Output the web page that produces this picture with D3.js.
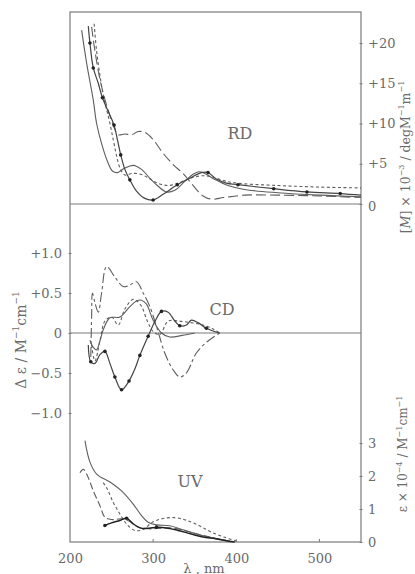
<!DOCTYPE html>
<html>
<head>
<meta charset="utf-8">
<script src="https://cdn.jsdelivr.net/npm/d3@7"></script>
<style>
  body { margin: 0; background: #fff; }
  text { font-family: "DejaVu Serif", serif; fill: #6a6a6a; }
</style>
</head>
<body>
<svg id="chart" width="415" height="574"></svg>
<script>
// wavelength axis
const xTicks = [200, 300, 400, 500];

// RD panel, [M] x 10^-3 (deg M^-1 m^-1)
const rdTicks = [5, 10, 15, 20];
const rdA = [[222,22.1],[224,20],[228,16.9],[234,15],[239,13.2],[246,11.5],[253,9.8],[257,8],[261,6.1],[266,4.3],[272,3.0],[280,1.6],[290,0.7],[300,0.5],[312,1.2],[329,2.4],[344,3.2],[358,3.9],[366,3.9],[376,3.1],[388,2.6],[402,2.4],[445,1.9],[485,1.5],[525,1.3],[550,1.1]];
const rdADots = [[224,20],[228,16.9],[239,13.2],[253,9.8],[261,6.1],[272,3.0],[300,0.5],[329,2.4],[366,3.9],[402,2.4],[445,1.9],[485,1.5],[525,1.3]];
const rdB = [[214,21.6],[220,17.5],[228,12.9],[232,10],[238,7.5],[245,5.3],[251,4.1],[257,3.9],[265,4.4],[276,4.8],[286,4.3],[296,3.2],[306,2.2],[316,1.5],[326,1.7],[338,2.8],[348,3.7],[355,4.0],[362,3.8],[375,3.0],[390,2.3],[410,1.8],[450,1.4],[500,1.1],[550,0.9]];
const rdC = [[229,22.4],[232,19],[236,16],[241,13],[247,10.5],[252,8],[256,6],[260,4.5],[266,3.6],[275,3.8],[285,3.7],[295,3.2],[305,2.6],[318,2.3],[330,2.6],[345,3.2],[358,3.5],[370,3.4],[385,2.9],[400,2.6],[450,2.3],[500,2.1],[550,2.0]];
const rdD = [[226,22.0],[230,19],[236,15.5],[242,13],[248,11],[253,9.5],[258,8.6],[266,8.7],[274,8.6],[282,9.0],[290,8.9],[300,8.0],[312,6.3],[325,4.8],[336,3.8],[348,2.3],[360,1.0],[370,0.6],[385,0.8],[410,1.1],[450,1.1],[500,1.0],[550,0.8]];

// CD panel, delta epsilon (M^-1 cm^-1)
const cdTicks = [-1.0, -0.5, 0, 0.5, 1.0];
const cdTickLabels = ["\u22121.0", "\u22120.5", "0", "+0.5", "+1.0"];
const cdA = [[222,-0.15],[225,-0.36],[230,-0.38],[236,-0.27],[242,-0.23],[248,-0.38],[254,-0.55],[262,-0.71],[271,-0.6],[278,-0.45],[284,-0.28],[294,-0.04],[302,0.14],[310,0.27],[318,0.26],[326,0.15],[332,0.09],[340,0.1],[346,0.16],[354,0.13],[364,0.06],[380,0]];
const cdADots = [[225,-0.36],[242,-0.23],[254,-0.55],[262,-0.71],[271,-0.6],[284,-0.28],[294,-0.04],[310,0.27],[332,0.09],[364,0.06]];
const cdB = [[224,-0.09],[228,-0.18],[232,-0.21],[236,-0.1],[240,0.04],[248,0.19],[260,0.2],[272,0.33],[280,0.4],[286,0.41],[292,0.36],[300,0.16],[310,0.0],[320,-0.05],[335,-0.03],[350,0]];
const cdC = [[226,-0.15],[230,-0.35],[236,-0.1],[242,0.15],[250,0.2],[258,0.1],[266,0.3],[276,0.42],[285,0.35],[293,0.15],[300,0.02],[308,-0.02],[318,0.15],[330,0.15],[345,0.13],[360,0.1],[372,0.05],[380,0]];
const cdD = [[225,-0.3],[226,0.2],[227,0.5],[230,0.38],[234,0.26],[238,0.5],[244,0.83],[254,0.7],[264,0.58],[272,0.6],[280,0.64],[288,0.5],[296,0.33],[305,0.05],[314,-0.25],[324,-0.46],[332,-0.55],[340,-0.5],[352,-0.25],[366,-0.1],[380,0]];

// UV panel, epsilon x 10^-4 (M^-1 cm^-1)
const uvTicks = [1, 2, 3];
const uvA = [[242,0.5],[250,0.58],[260,0.65],[268,0.72],[276,0.55],[285,0.42],[295,0.42],[305,0.45],[318,0.42],[330,0.35],[345,0.25],[360,0.15],[375,0.1],[390,0.03],[398,0]];
const uvADots = [[242,0.5],[268,0.72],[304,0.45]];
const uvB = [[218,3.07],[224,2.42],[232,2.06],[248,1.82],[262,1.55],[276,1.15],[286,0.8],[294,0.6],[304,0.52],[320,0.49],[336,0.37],[360,0.19],[380,0.08],[394,0]];
const uvC = [[240,1.8],[245,1.6],[252,1.2],[260,0.85],[268,0.55],[278,0.35],[288,0.38],[298,0.58],[310,0.7],[325,0.74],[340,0.66],[355,0.5],[370,0.3],[385,0.15],[400,0.03]];
const uvD = [[212,2.1],[216,2.2],[222,1.95],[228,1.55],[236,1.1],[242,0.75],[250,0.68],[262,0.7],[272,0.62],[282,0.45],[295,0.4],[310,0.42],[325,0.42],[340,0.33],[360,0.2],[385,0.06],[398,0]];

const svg = d3.select('#chart');
const mLeft = 70, mRight = 361, mTop = 12, mBottom = 542;

const x = d3.scaleLinear().domain([200, 550]).range([mLeft, mRight]);
const yRD = d3.scaleLinear().domain([0, 20]).range([204, 43]);
const yCD = d3.scaleLinear().domain([-1, 1]).range([413, 253]);
const yUV = d3.scaleLinear().domain([0, 3]).range([mBottom, 443]);

const lineColor = '#5e5e5e';
const frameColor = '#7a7a7a';
const textColor = '#6a6a6a';

// frame and zero lines
svg.append('rect')
    .attr('x', mLeft).attr('y', mTop)
    .attr('width', mRight - mLeft).attr('height', mBottom - mTop)
    .attr('fill', 'none').attr('stroke', frameColor).attr('stroke-width', 1.2);

[yRD(0), yCD(0)].forEach(yy => {
    svg.append('line')
        .attr('x1', mLeft).attr('x2', mRight)
        .attr('y1', yy).attr('y2', yy)
        .attr('stroke', frameColor).attr('stroke-width', 1.2);
});

function styleTickText(sel) {
    sel.attr('fill', textColor)
        .style('font-size', '13px')
        .style('font-family', '"DejaVu Serif", serif');
}

// bottom axis
const xAxis = svg.append('g').attr('transform', `translate(0,${mBottom})`)
    .call(d3.axisBottom(x).tickValues(xTicks).tickSize(0).tickPadding(12));
xAxis.select('.domain').remove();
styleTickText(xAxis.selectAll('text'));
xTicks.filter(t => t > 200).forEach(t => {
    svg.append('line').attr('x1', x(t)).attr('x2', x(t))
        .attr('y1', mBottom).attr('y2', mBottom - 3)
        .attr('stroke', frameColor);
});

// left axis (CD)
const cdAxis = svg.append('g').attr('transform', `translate(${mLeft},0)`)
    .call(d3.axisLeft(yCD).tickValues(cdTicks).tickSize(3).tickPadding(5)
        .tickFormat((d, i) => cdTickLabels[i]));
cdAxis.select('.domain').remove();
cdAxis.selectAll('line').attr('stroke', frameColor).attr('transform', 'translate(1.5,0)');
styleTickText(cdAxis.selectAll('text'));

// right axes (RD and UV)
const rdAxis = svg.append('g').attr('transform', `translate(${mRight},0)`)
    .call(d3.axisRight(yRD).tickValues([0].concat(rdTicks)).tickSize(3).tickPadding(4)
        .tickFormat(d => d === 0 ? '0' : '+' + d));
const uvAxis = svg.append('g').attr('transform', `translate(${mRight},0)`)
    .call(d3.axisRight(yUV).tickValues([0].concat(uvTicks)).tickSize(3).tickPadding(4)
        .tickFormat(d3.format('d')));
[rdAxis, uvAxis].forEach(ax => {
    ax.select('.domain').remove();
    ax.selectAll('line').attr('stroke', frameColor).attr('transform', 'translate(-1.5,0)');
    styleTickText(ax.selectAll('text'));
});
rdAxis.selectAll('.tick').filter(d => d === 0).select('text').attr('dy', '0.5em');

// curves
function drawCurve(data, yScale, dash, color, width) {
    const line = d3.line()
        .x(d => x(d[0]))
        .y(d => yScale(d[1]))
        .curve(d3.curveCatmullRom.alpha(0.5));
    svg.append('path')
        .datum(data)
        .attr('d', line)
        .attr('fill', 'none')
        .attr('stroke', color)
        .attr('stroke-width', width)
        .attr('stroke-dasharray', dash);
}

function drawDots(data, yScale) {
    svg.append('g').selectAll('circle')
        .data(data)
        .join('circle')
        .attr('cx', d => x(d[0]))
        .attr('cy', d => yScale(d[1]))
        .attr('r', 1.8)
        .attr('fill', '#222');
}

const shortDash = '3,2.5';

drawCurve(rdB, yRD, null, lineColor, 1.1);
drawCurve(rdC, yRD, shortDash, lineColor, 1.1);
drawCurve(rdD, yRD, '10,4', lineColor, 1.1);
drawCurve(rdA, yRD, null, '#444', 1.2);
drawDots(rdADots, yRD);

drawCurve(cdB, yCD, null, lineColor, 1.1);
drawCurve(cdC, yCD, shortDash, lineColor, 1.1);
drawCurve(cdD, yCD, '10,3,3,3', lineColor, 1.1);
drawCurve(cdA, yCD, null, '#444', 1.2);
drawDots(cdADots, yCD);

drawCurve(uvB, yUV, null, lineColor, 1.1);
drawCurve(uvC, yUV, shortDash, lineColor, 1.1);
drawCurve(uvD, yUV, '7,3', lineColor, 1.1);
drawCurve(uvA, yUV, null, '#222', 1.5);
drawDots(uvADots, yUV);

// panel labels
[['RD', 240, 133], ['CD', 222, 309], ['UV', 190, 481]].forEach(([t, px, py]) => {
    svg.append('text').attr('x', px).attr('y', py)
        .attr('text-anchor', 'middle').attr('dominant-baseline', 'central')
        .style('font-size', '16px').text(t);
});

// axis titles
svg.append('text')
    .attr('transform', 'translate(21,340) rotate(-90)')
    .attr('text-anchor', 'middle').attr('dominant-baseline', 'central')
    .style('font-size', '14px')
    .html('\u0394 \u03b5 / M<tspan dy="-5" font-size="9">\u22121</tspan><tspan dy="5">cm</tspan><tspan dy="-5" font-size="9">\u22121</tspan>');

svg.append('text')
    .attr('transform', 'translate(405,157) rotate(-90)')
    .attr('text-anchor', 'middle').attr('dominant-baseline', 'central')
    .style('font-size', '12.5px')
    .html('[<tspan font-style="italic">M</tspan>] \u00d7 10<tspan dy="-4" font-size="8">\u22123</tspan><tspan dy="4"> / degM</tspan><tspan dy="-4" font-size="8">\u22121</tspan><tspan dy="4">m</tspan><tspan dy="-4" font-size="8">\u22121</tspan>');

svg.append('text')
    .attr('transform', 'translate(403,454) rotate(-90)')
    .attr('text-anchor', 'middle').attr('dominant-baseline', 'central')
    .style('font-size', '12px')
    .html('\u03b5 \u00d7 10<tspan dy="-4" font-size="8">\u22124</tspan><tspan dy="4"> / M</tspan><tspan dy="-4" font-size="8">\u22121</tspan><tspan dy="4">cm</tspan><tspan dy="-4" font-size="8">\u22121</tspan>');

svg.append('text')
    .attr('x', 204).attr('y', 568)
    .attr('text-anchor', 'middle').attr('dominant-baseline', 'central')
    .style('font-size', '13px')
    .text('\u03bb , nm');
</script>
</body>
</html>
